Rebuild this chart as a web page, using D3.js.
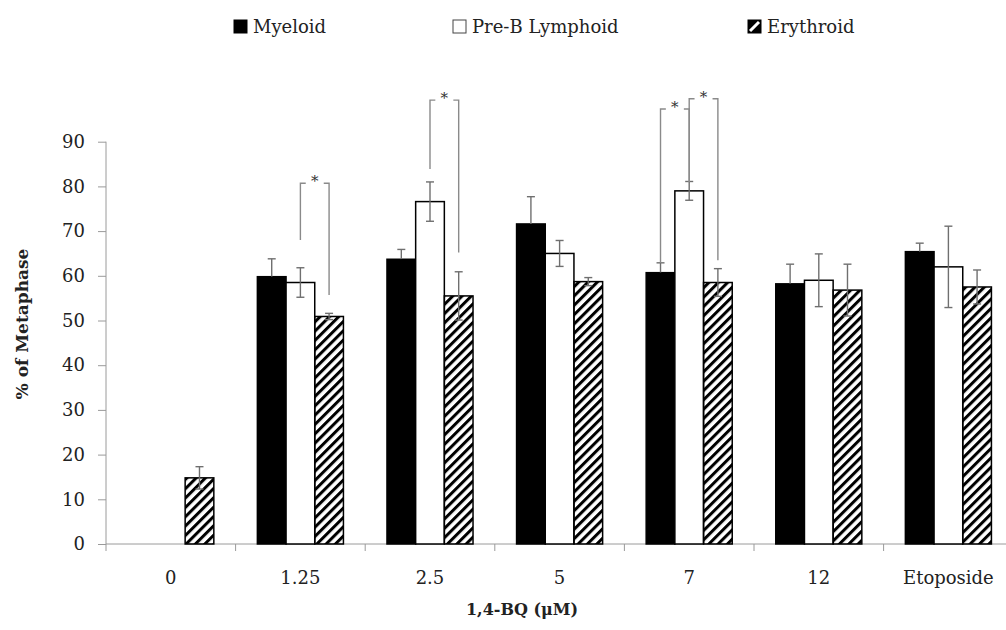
<!DOCTYPE html>
<html>
<head>
<meta charset="utf-8">
<script src="https://cdn.jsdelivr.net/npm/d3@7"></script>
<style>
  body { margin: 0; background: #fff; }
  svg { display: block; }
  text { font-family: "DejaVu Serif", serif; fill: #222; }
</style>
</head>
<body>
<div id="chart"></div>
<script>
// values
var categories = ["0", "1.25", "2.5", "5", "7", "12", "Etoposide"];
var seriesNames = ["Myeloid", "Pre-B Lymphoid", "Erythroid"];

var myeloid      = [null, 59.8, 63.7, 71.6, 60.7, 58.2, 65.4];
var myeloidErr   = [null, 4.0, 2.2, 6.1, 2.2, 4.4, 1.9];
var preB         = [null, 58.5, 76.6, 65.0, 79.0, 59.0, 62.0];
var preBErr      = [null, 3.3, 4.4, 2.9, 2.1, 5.9, 9.1];
var erythroid    = [14.8, 50.9, 55.5, 58.7, 58.5, 56.8, 57.5];
var erythroidErr = [2.5, 0.7, 5.4, 0.9, 3.1, 5.8, 3.8];

var yTicks = [0, 10, 20, 30, 40, 50, 60, 70, 80, 90];

// significance brackets
var sigCats     = ["1.25", "2.5", "7", "7"];
var sigFrom     = ["Pre-B Lymphoid", "Pre-B Lymphoid", "Myeloid", "Pre-B Lymphoid"];
var sigTo       = ["Erythroid", "Erythroid", "Pre-B Lymphoid", "Erythroid"];
var sigTop      = [80.7, 99.3, 97.3, 99.6];
var sigFromBase = [68.0, 83.9, 62.9, 81.0];
var sigToBase   = [55.7, 65.2, 81.0, 63.5];

var W = 1006, H = 630;
var plotLeft = 106, plotBottom = 544, plotTop = 141.7;
var step = 129.6;

var svg = d3.select("#chart").append("svg")
    .attr("width", W).attr("height", H);

// hatch pattern for erythroid
var defs = svg.append("defs");
defs.append("pattern")
    .attr("id", "hatch")
    .attr("patternUnits", "userSpaceOnUse")
    .attr("width", 6.6).attr("height", 6.6)
    .attr("patternTransform", "rotate(45)")
  .append("rect")
    .attr("x", 0).attr("y", 0)
    .attr("width", 3).attr("height", 6.6)
    .attr("fill", "#000");

var x0 = d3.scaleBand()
    .domain(categories)
    .range([plotLeft, plotLeft + step * categories.length])
    .paddingInner(0.336)
    .paddingOuter(0.168);

var x1 = d3.scaleBand()
    .domain(seriesNames)
    .range([0, x0.bandwidth()]);

var y = d3.scaleLinear().domain([0, 90]).range([plotBottom, plotTop]);

var fills = { "Myeloid": "#000", "Pre-B Lymphoid": "#fff", "Erythroid": "url(#hatch)" };
var vals = { "Myeloid": myeloid, "Pre-B Lymphoid": preB, "Erythroid": erythroid };
var errs = { "Myeloid": myeloidErr, "Pre-B Lymphoid": preBErr, "Erythroid": erythroidErr };

var rows = [];
categories.forEach(function (c, i) {
    seriesNames.forEach(function (s) {
        if (vals[s][i] != null) rows.push({ cat: c, s: s, v: vals[s][i], e: errs[s][i] });
    });
});

// axes
var axisColor = "#9a9a9a";
var yAxis = svg.append("g")
    .attr("transform", "translate(" + plotLeft + ",0)")
    .call(d3.axisLeft(y).tickValues(yTicks).tickSize(8).tickPadding(13));
yAxis.select(".domain").remove();
yAxis.append("line")
    .attr("x1", 0).attr("x2", 0)
    .attr("y1", plotTop).attr("y2", plotBottom + 7)
    .attr("stroke", axisColor);
yAxis.selectAll(".tick line").attr("stroke", axisColor);
yAxis.selectAll(".tick text")
    .style("font-family", "DejaVu Serif")
    .style("font-size", "18px")
    .attr("fill", "#222");

// category boundary ticks on x axis
var bounds = categories.map(function (c) { return x0(c) - x0.step() * 0.168; });
svg.append("line")
    .attr("x1", plotLeft).attr("x2", W)
    .attr("y1", plotBottom).attr("y2", plotBottom)
    .attr("stroke", axisColor);
svg.selectAll(".xtick")
    .data(bounds.slice(1))
    .enter().append("line")
    .attr("class", "xtick")
    .attr("x1", d => d).attr("x2", d => d)
    .attr("y1", plotBottom).attr("y2", plotBottom + 7)
    .attr("stroke", axisColor);

svg.selectAll(".xlab")
    .data(categories)
    .enter().append("text")
    .attr("class", "xlab")
    .attr("x", d => x0(d) + x0.bandwidth() / 2)
    .attr("y", 584)
    .attr("text-anchor", "middle")
    .style("font-size", "18px")
    .text(d => d);

// bars
svg.selectAll("rect.bar")
    .data(rows)
    .enter().append("rect")
    .attr("class", "bar")
    .attr("x", d => x0(d.cat) + x1(d.s))
    .attr("y", d => y(d.v))
    .attr("width", x1.bandwidth())
    .attr("height", d => plotBottom - y(d.v))
    .attr("fill", d => fills[d.s])
    .attr("stroke", "#000")
    .attr("stroke-width", 1.5);

// error bars (lower half disappears into the solid black bars)
var errColor = "#6f6f6f";
var lowColor = function (d) { return d.s === "Myeloid" ? "#000" : errColor; };
var eb = svg.selectAll("g.err")
    .data(rows)
    .enter().append("g")
    .attr("class", "err")
    .attr("transform", d => "translate(" + (x0(d.cat) + x1(d.s) + x1.bandwidth() / 2) + ",0)");
eb.append("line")
    .attr("y1", d => y(d.v + d.e)).attr("y2", d => y(d.v))
    .attr("stroke", errColor).attr("stroke-width", 1.4);
eb.append("line")
    .attr("y1", d => y(d.v)).attr("y2", d => y(d.v - d.e))
    .attr("stroke", lowColor).attr("stroke-width", 1.4);
eb.append("line")
    .attr("x1", -4).attr("x2", 4)
    .attr("y1", d => y(d.v + d.e)).attr("y2", d => y(d.v + d.e))
    .attr("stroke", errColor).attr("stroke-width", 1.4);
eb.append("line")
    .attr("x1", -4).attr("x2", 4)
    .attr("y1", d => y(d.v - d.e)).attr("y2", d => y(d.v - d.e))
    .attr("stroke", lowColor).attr("stroke-width", 1.4);

// significance brackets
var sigColor = "#8a8a8a";
var cx = function (c, s) { return x0(c) + x1(s) + x1.bandwidth() / 2; };
sigCats.forEach(function (c, i) {
    var xa = cx(c, sigFrom[i]), xb = cx(c, sigTo[i]);
    var yt = y(sigTop[i]);
    var seg = (xb - xa - 18) / 2;
    var g = svg.append("g").attr("class", "sig");
    var path = "M" + xa + "," + y(sigFromBase[i]) + "V" + yt + "H" + (xa + seg) +
        "M" + (xb - seg) + "," + yt + "H" + xb + "V" + y(sigToBase[i]);
    g.append("path")
        .attr("d", path)
        .attr("fill", "none")
        .attr("stroke", sigColor)
        .attr("stroke-width", 1.4);
    g.append("text")
        .attr("x", (xa + xb) / 2)
        .attr("y", yt + 3)
        .attr("text-anchor", "middle")
        .style("font-size", "15px")
        .style("fill", "#333")
        .text("*");
});

// axis titles
svg.append("text")
    .attr("x", 522).attr("y", 615)
    .attr("text-anchor", "middle")
    .style("font-size", "16px")
    .style("font-weight", "bold")
    .text("1,4-BQ (μM)");

svg.append("text")
    .attr("transform", "translate(28,324) rotate(-90)")
    .attr("text-anchor", "middle")
    .style("font-size", "17px")
    .style("font-weight", "bold")
    .text("% of Metaphase");

// legend
var legX = [234, 453, 748];
var leg = svg.selectAll("g.leg")
    .data(seriesNames)
    .enter().append("g")
    .attr("class", "leg")
    .attr("transform", (d, i) => "translate(" + legX[i] + ",20)");
leg.append("rect")
    .attr("width", 13).attr("height", 13)
    .attr("fill", d => d === "Erythroid" ? "#000" : fills[d])
    .attr("stroke", d => d === "Pre-B Lymphoid" ? "#444" : "#000")
    .attr("stroke-width", 1);
leg.filter(d => d === "Erythroid").append("line")
    .attr("x1", 2).attr("y1", 11).attr("x2", 11).attr("y2", 2)
    .attr("stroke", "#fff").attr("stroke-width", 3);
leg.append("text")
    .attr("x", 19).attr("y", 12.5)
    .style("font-size", "18px")
    .text(d => d);
</script>
</body>
</html>
